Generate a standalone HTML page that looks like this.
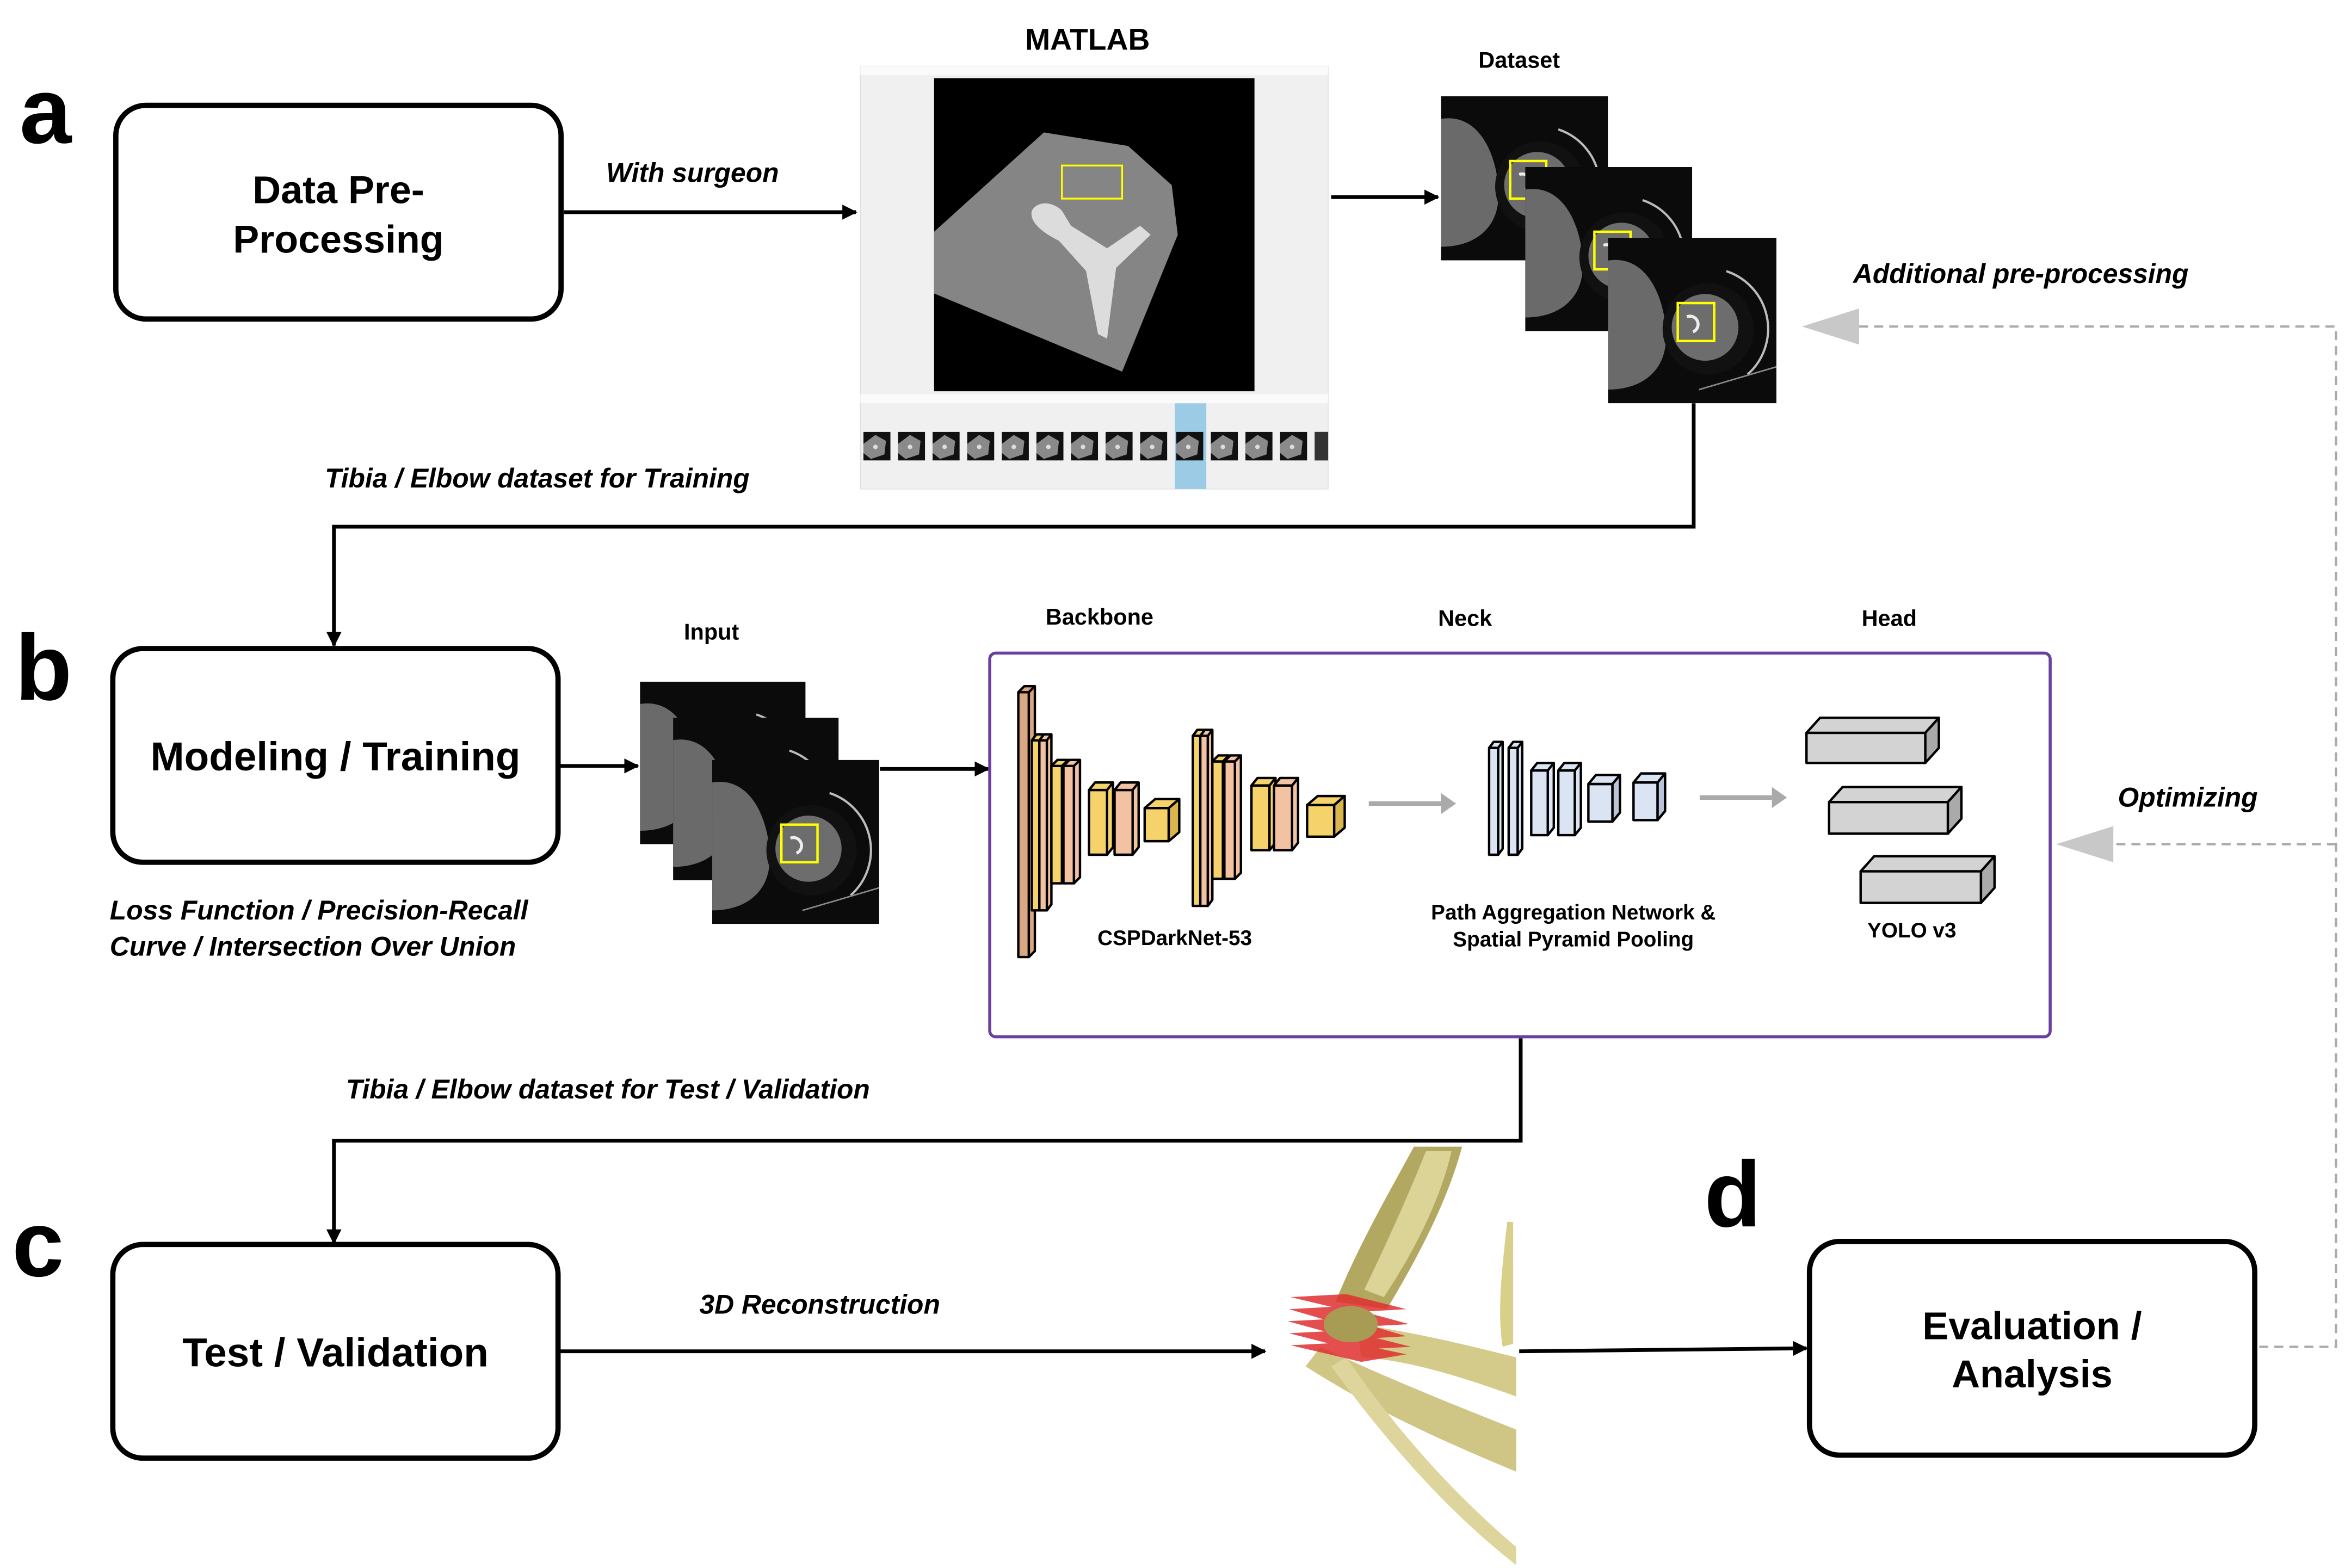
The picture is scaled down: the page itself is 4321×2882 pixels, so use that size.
<!DOCTYPE html>
<html><head><meta charset="utf-8"><style>html,body{margin:0;padding:0;background:#fff}svg{display:block}text{font-family:"Liberation Sans",Arial,sans-serif;font-weight:bold}</style></head><body>
<svg width="4321" height="2882" viewBox="0 0 1563 1042" preserveAspectRatio="none" xmlns="http://www.w3.org/2000/svg">
<defs>
<marker id="ah" markerWidth="10" markerHeight="10" refX="9" refY="5" orient="auto" markerUnits="userSpaceOnUse"><path d="M0,0 L10,5 L0,10 z" fill="#000"/></marker>
<symbol id="ct" viewBox="0 0 111 109">
<rect width="111" height="109" fill="#0b0b0b"/>
<path d="M0,15 C30,10 40,50 38,70 C36,90 20,100 0,100 z" fill="#6a6a6a"/>
<ellipse cx="66" cy="60" rx="30" ry="30" fill="#111"/>
<circle cx="64" cy="59" r="22" fill="#6d6d6d"/>
<path d="M78,22 A40,40 0 0 1 92,90" stroke="#bbb" stroke-width="1.5" fill="none"/>
<path d="M60,100 L111,85" stroke="#888" stroke-width="1" fill="none"/>
<path d="M52,52 a5,5 0 1 1 4,10" stroke="#eee" stroke-width="2" fill="none"/>
<rect x="46" y="43" width="24" height="25" fill="none" stroke="#ffff00" stroke-width="1.6"/>
</symbol>
<symbol id="th" viewBox="0 0 18 19">
<rect width="18" height="19" fill="#111"/>
<path d="M0,8 L8,2 L15,6 L14,15 L5,18 L0,14z" fill="#8a8a8a"/>
<circle cx="8" cy="10" r="1.5" fill="#ddd"/>
</symbol>
</defs>

<!-- panel letters -->
<text x="13" y="95" font-size="62">a</text>
<text x="10" y="465" font-size="62">b</text>
<text x="8" y="848" font-size="62">c</text>
<text x="1133" y="815" font-size="62">d</text>

<!-- boxes -->
<g fill="#fff" stroke="#000" stroke-width="3.5">
<rect x="77" y="70" width="296" height="142" rx="20"/>
<rect x="75" y="431" width="296" height="142" rx="20"/>
<rect x="75" y="827" width="296" height="142" rx="20"/>
<rect x="1203" y="825" width="296" height="142" rx="20"/>
</g>
<g font-size="26" text-anchor="middle">
<text x="225" y="135">Data Pre-</text>
<text x="225" y="168">Processing</text>
<text x="223" y="512" font-size="27">Modeling / Training</text>
<text x="223" y="908" font-size="27">Test / Validation</text>
<text x="1351" y="890">Evaluation /</text>
<text x="1351" y="922">Analysis</text>
</g>

<!-- italic labels -->
<g font-style="italic" font-size="18">
<text x="403" y="121">With surgeon</text>
<text x="216" y="324">Tibia / Elbow dataset for Training</text>
<text x="1232" y="188">Additional pre-processing</text>
<text x="1408" y="536">Optimizing</text>
<text x="73" y="611">Loss Function / Precision-Recall</text>
<text x="73" y="635">Curve / Intersection Over Union</text>
<text x="230" y="730">Tibia / Elbow dataset for Test / Validation</text>
<text x="465" y="873">3D Reconstruction</text>
</g>

<!-- black connectors -->
<g stroke="#000" stroke-width="2.5" fill="none" marker-end="url(#ah)">
<line x1="375" y1="141" x2="569" y2="141"/>
<line x1="885" y1="131" x2="956" y2="131"/>
<polyline points="1126,268 1126,350 222,350 222,429"/>
<line x1="372" y1="509" x2="424" y2="509"/>
<line x1="585" y1="511" x2="657" y2="511"/>
<polyline points="1011,690 1011,758 222,758 222,826"/>
<line x1="372" y1="898" x2="841" y2="898"/>
<line x1="1010" y1="898" x2="1201" y2="896"/>
</g>

<!-- dashed feedback -->
<g stroke="#aaa" stroke-width="1.5" fill="none" stroke-dasharray="6,4">
<polyline points="1502,895 1553,895 1553,217 1235,217"/>
<line x1="1553" y1="561" x2="1405" y2="561"/>
</g>
<path d="M1198,217 L1236,205 L1236,229 z" fill="#c8c8c8"/>
<path d="M1367,561 L1405,549 L1405,573 z" fill="#c8c8c8"/>

<!-- MATLAB -->
<text x="723" y="33" font-size="20" text-anchor="middle">MATLAB</text>
<rect x="572" y="44" width="311" height="281" fill="#f0f0f0" stroke="#ddd" stroke-width="0.5"/>
<rect x="572" y="44" width="311" height="6" fill="#fafafa"/>
<rect x="621" y="52" width="213" height="208" fill="#000"/>
<path d="M621,154 L694,88 L750,97 L779,123 L783,156 L746,247 L621,195 z" fill="#858585"/>
<path d="M686,140 C690,133 700,134 706,140 L712,150 L736,165 L758,150 L765,156 L742,178 L736,225 L730,222 L722,180 L704,160 C694,155 684,148 686,140 z" fill="#dcdcdc"/>
<rect x="706" y="110" width="40" height="22" fill="none" stroke="#ffff00" stroke-width="1.2"/>
<rect x="572" y="262" width="311" height="6" fill="#fafafa"/>
<rect x="781" y="268" width="21" height="57" fill="#9ccbe6"/>
<use href="#th" x="574" y="287" width="18" height="19"/><use href="#th" x="597" y="287" width="18" height="19"/><use href="#th" x="620" y="287" width="18" height="19"/><use href="#th" x="643" y="287" width="18" height="19"/><use href="#th" x="666" y="287" width="18" height="19"/><use href="#th" x="689" y="287" width="18" height="19"/><use href="#th" x="712" y="287" width="18" height="19"/><use href="#th" x="735" y="287" width="18" height="19"/><use href="#th" x="758" y="287" width="18" height="19"/><use href="#th" x="782" y="287" width="18" height="19"/><use href="#th" x="805" y="287" width="18" height="19"/><use href="#th" x="828" y="287" width="18" height="19"/><use href="#th" x="851" y="287" width="18" height="19"/>
<rect x="874" y="287" width="9" height="19" fill="#333"/>

<!-- Dataset -->
<text x="1010" y="45" font-size="15" text-anchor="middle">Dataset</text>
<use href="#ct" x="958" y="64" width="111" height="109"/>
<use href="#ct" x="1014" y="111" width="111" height="109"/>
<use href="#ct" x="1069" y="158" width="112" height="110"/>

<!-- Input -->
<text x="473" y="425" font-size="15" text-anchor="middle">Input</text>
<use href="#ct" x="425" y="453" width="111" height="108"/>
<use href="#ct" x="447" y="477" width="111" height="108"/>
<use href="#ct" x="473" y="505" width="112" height="109"/>

<!-- network -->
<g font-size="15" text-anchor="middle">
<text x="731" y="415">Backbone</text>
<text x="974" y="416">Neck</text>
<text x="1256" y="416">Head</text>
</g>
<rect x="658" y="434" width="705" height="255" rx="4" fill="none" stroke="#6a3fa0" stroke-width="2"/>
<g stroke="#000" stroke-width="1.6" stroke-linejoin="round">
<g fill="#d9a882"><rect x="677" y="460" width="7" height="176"/><path d="M677,460 l4,-4 h7 l-4,4z M684,460 l4,-4 v176 l-4,4z"/></g>
<g fill="#f5d36a"><rect x="686" y="492" width="5" height="113"/><path d="M686,492 l3,-4 h5 l-3,4z"/></g>
<g fill="#f3c2a2"><rect x="691" y="492" width="5" height="113"/><path d="M691,492 l3,-4 h5 l-3,4z M696,492 l3,-4 v113 l-3,4z"/></g>
<g fill="#f5d36a"><rect x="699" y="509" width="7" height="78"/><path d="M699,509 l4,-4 h7 l-4,4z"/></g>
<g fill="#f3c2a2"><rect x="707" y="509" width="7" height="78"/><path d="M707,509 l4,-4 h7 l-4,4z M714,509 l4,-4 v78 l-4,4z"/></g>
<g fill="#f5d36a"><rect x="724" y="525" width="12" height="43"/><path d="M724,525 l4,-5 h12 l-4,5z M736,525 l4,-5 v43 l-4,5z"/></g>
<g fill="#f3c2a2"><rect x="741" y="525" width="12" height="43"/><path d="M741,525 l4,-5 h12 l-4,5z M753,525 l4,-5 v43 l-4,5z"/></g>
<g fill="#f5d36a"><rect x="761" y="537" width="16" height="22"/><path d="M761,537 l7,-6 h16 l-7,6z"/><path d="M777,537 l7,-6 v22 l-7,6z" fill="#d9b550"/></g>
<g fill="#f5d36a"><rect x="793" y="489" width="5" height="113"/><path d="M793,489 l3,-4 h5 l-3,4z"/></g>
<g fill="#f3c2a2"><rect x="798" y="489" width="5" height="113"/><path d="M798,489 l3,-4 h5 l-3,4z M803,489 l3,-4 v113 l-3,4z"/></g>
<g fill="#f5d36a"><rect x="806" y="506" width="7" height="78"/><path d="M806,506 l4,-4 h7 l-4,4z"/></g>
<g fill="#f3c2a2"><rect x="814" y="506" width="7" height="78"/><path d="M814,506 l4,-4 h7 l-4,4z M821,506 l4,-4 v78 l-4,4z"/></g>
<g fill="#f5d36a"><rect x="832" y="522" width="12" height="43"/><path d="M832,522 l4,-5 h12 l-4,5z M844,522 l4,-5 v43 l-4,5z"/></g>
<g fill="#f3c2a2"><rect x="847" y="522" width="12" height="43"/><path d="M847,522 l4,-5 h12 l-4,5z M859,522 l4,-5 v43 l-4,5z"/></g>
<g fill="#f5d36a"><rect x="869" y="535" width="18" height="21"/><path d="M869,535 l7,-6 h18 l-7,6z"/><path d="M887,535 l7,-6 v21 l-7,6z" fill="#d9b550"/></g>
<g fill="#dbe4f3"><rect x="990" y="497" width="6" height="71"/><path d="M990,497 l3,-4 h6 l-3,4z M996,497 l3,-4 v71 l-3,4z"/></g>
<g fill="#dbe4f3"><rect x="1003" y="497" width="6" height="71"/><path d="M1003,497 l3,-4 h6 l-3,4z M1009,497 l3,-4 v71 l-3,4z"/></g>
<g fill="#dbe4f3"><rect x="1018" y="512" width="11" height="43"/><path d="M1018,512 l4,-5 h11 l-4,5z M1029,512 l4,-5 v43 l-4,5z"/></g>
<g fill="#dbe4f3"><rect x="1036" y="512" width="11" height="43"/><path d="M1036,512 l4,-5 h11 l-4,5z M1047,512 l4,-5 v43 l-4,5z"/></g>
<g fill="#dbe4f3"><rect x="1056" y="521" width="16" height="25"/><path d="M1056,521 l5,-6 h16 l-5,6z"/><path d="M1072,521 l5,-6 v25 l-5,6z" fill="#b9c4d8"/></g>
<g fill="#dbe4f3"><rect x="1086" y="520" width="16" height="25"/><path d="M1086,520 l5,-6 h16 l-5,6z"/><path d="M1102,520 l5,-6 v25 l-5,6z" fill="#b9c4d8"/></g>
<g fill="#d3d3d3"><rect x="1201" y="487" width="79" height="20"/><path d="M1201,487 l9,-10 h79 l-9,10z"/><path d="M1280,487 l9,-10 v20 l-9,10z" fill="#aaa"/></g>
<g fill="#d3d3d3"><rect x="1216" y="533" width="79" height="21"/><path d="M1216,533 l9,-10 h79 l-9,10z"/><path d="M1295,533 l9,-10 v21 l-9,10z" fill="#aaa"/></g>
<g fill="#d3d3d3"><rect x="1237" y="579" width="80" height="21"/><path d="M1237,579 l9,-10 h80 l-9,10z"/><path d="M1317,579 l9,-10 v21 l-9,10z" fill="#aaa"/></g>
</g>
<g stroke="#aaa" stroke-width="3"><line x1="910" y1="534" x2="958" y2="534"/><line x1="1130" y1="530" x2="1178" y2="530"/></g>
<path d="M968,534 l-10,-7 v14z M1188,530 l-10,-7 v14z" fill="#aaa"/>
<g font-size="14" text-anchor="middle">
<text x="781" y="628">CSPDarkNet-53</text>
<text x="1046" y="611">Path Aggregation Network &amp;</text>
<text x="1046" y="629">Spatial Pyramid Pooling</text>
<text x="1271" y="623">YOLO v3</text>
</g>

<!-- 3D bones -->
<g>
<path d="M940,762 L972,762 C962,800 940,840 922,870 L888,865 C902,830 922,795 940,762 z" fill="#b3a862"/>
<path d="M948,765 L965,765 C957,800 938,835 920,862 L907,857 C922,826 936,795 948,765 z" fill="#dcd496"/>
<path d="M902,880 C940,885 980,895 1008,902 L1008,928 C980,918 940,904 905,902 z" fill="#d4cb8a"/>
<path d="M878,895 C920,915 970,935 1008,950 L1008,978 C960,958 915,938 868,908 z" fill="#cfc584"/>
<path d="M895,902 C935,960 975,1000 1008,1028 L1008,1040 C972,1012 932,972 885,908 z" fill="#ddd59c"/>
<path d="M1002,812 L1006,812 L1006,893 L999,895 C995,870 999,840 1002,812z" fill="#d8d08a"/>
<g fill="#e03030" opacity="0.85">
<path d="M858,862 L895,860 L935,870 L900,872z"/>
<path d="M857,870 L893,868 L937,880 L898,882z"/>
<path d="M856,878 L895,876 L935,888 L900,890z"/>
<path d="M857,886 L895,884 L938,895 L900,897z"/>
<path d="M858,894 L897,892 L935,900 L905,905z"/>
</g>
<ellipse cx="898" cy="880" rx="18" ry="12" fill="#a89c55"/>
</g>
</svg>
</body></html>
